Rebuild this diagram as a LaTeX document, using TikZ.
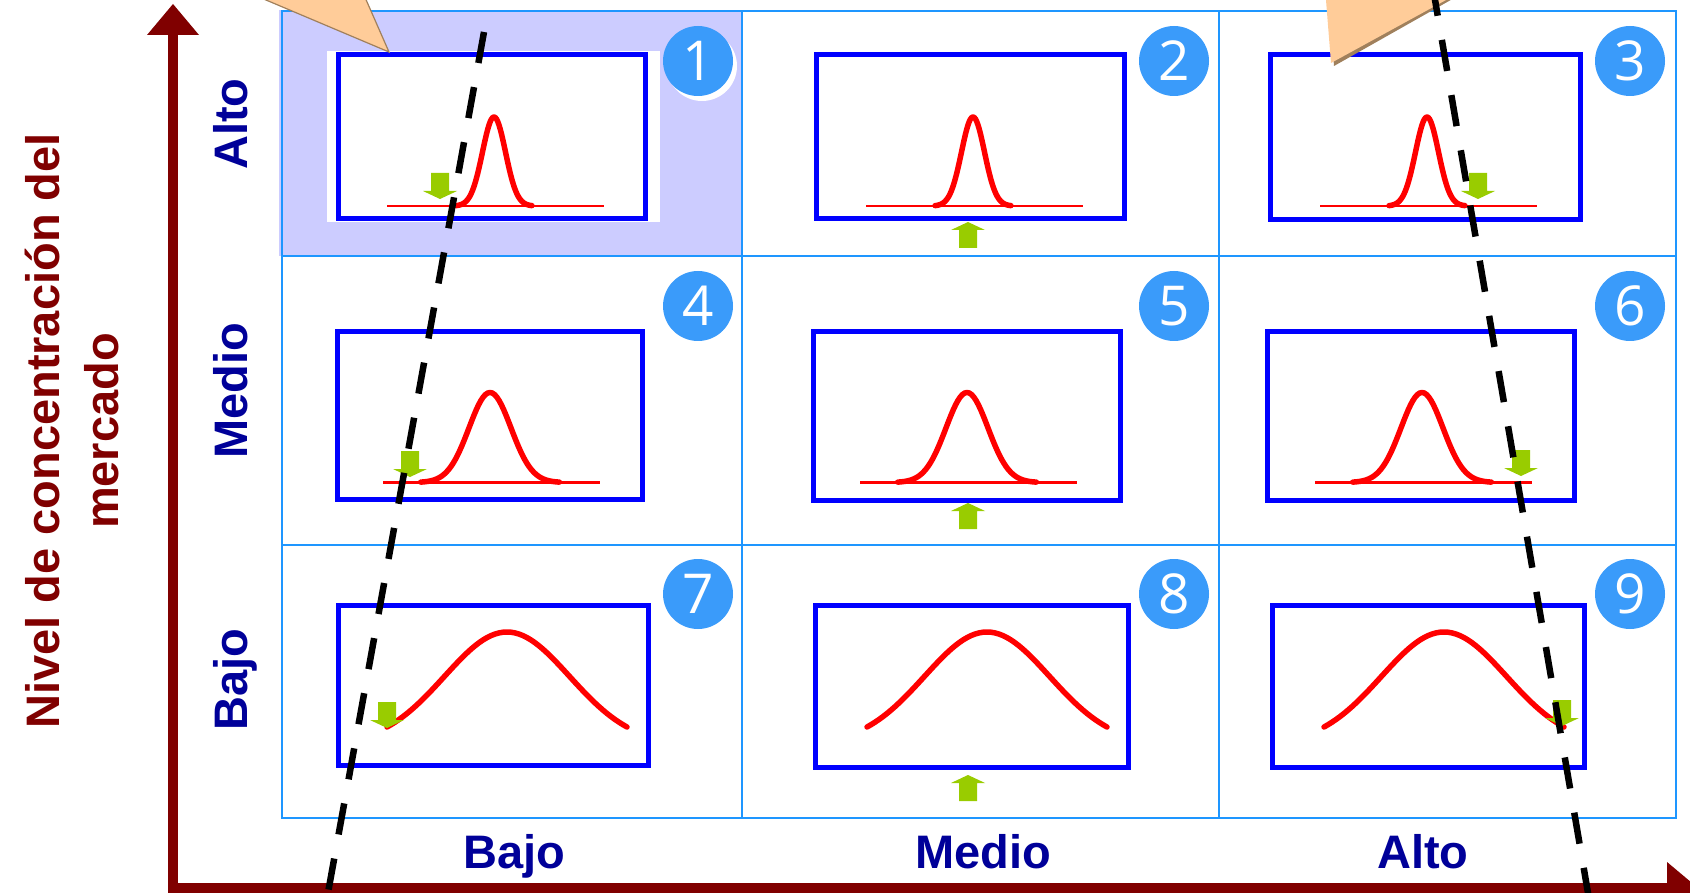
\documentclass[tikz,border=0pt]{standalone}
\usepackage{fontspec}
\newfontfamily\lblfont{Liberation Sans}
\newfontfamily\digitfont{Open Sans}
\definecolor{axisred}{HTML}{800000}
\definecolor{lblblue}{HTML}{000099}
\definecolor{gridblue}{HTML}{1E96FF}
\definecolor{lav}{HTML}{CCCCFF}
\definecolor{boxblue}{HTML}{0000FF}
\definecolor{numblue}{HTML}{3A9BFA}
\definecolor{agreen}{HTML}{99CC00}
\definecolor{peach}{HTML}{FFCC99}
\definecolor{peachedge}{HTML}{A0805C}
\tikzset{
  gridline/.style={draw=gridblue, line width=2.5pt},
  bluebox/.style={draw=boxblue, line width=5pt},
  redcurve/.style={draw=red, line width=5.5pt, line join=round, line cap=round},
  redbase/.style={draw=red, line width=2.5pt},
  numcircle/.style={circle, fill=numblue, text=white, minimum size=70pt, inner sep=0pt, font=\digitfont\fontsize{55pt}{55pt}\selectfont},
  numshadow/.style={circle, fill=white, minimum size=70pt, inner sep=0pt},
  rowlabel/.style={rotate=90, anchor=base, text=lblblue, font=\lblfont\bfseries\fontsize{47pt}{56pt}\selectfont},
  collabel/.style={anchor=base, text=lblblue, font=\lblfont\bfseries\fontsize{47pt}{56pt}\selectfont},
  axislabel/.style={rotate=90, anchor=base, text=axisred, font=\lblfont\bfseries\fontsize{47pt}{56pt}\selectfont},
  guide/.style={draw=black, line width=6.5pt, dash pattern=on 31.5pt off 24.5pt},
  callout/.style={fill=peach, draw=peachedge, line width=1.2pt},
  downarr/.pic={\fill[agreen] (-9,0) -- (9,0) -- (9,18) -- (17,18) -- (0,26) -- (-17,18) -- (-9,18) -- cycle;},
  uparr/.pic={\fill[agreen] (0,0) -- (17,8) -- (9,8) -- (9,26) -- (-9,26) -- (-9,8) -- (-17,8) -- cycle;},
}
\newcommand\peakcurve[4]{%
  \draw[redbase] ({#1-107},#2) -- ({#1+110},#2);
  \draw[redcurve] plot[domain={-3.3*#3}:{3.3*#3}, samples=61] ({#1+\x}, {#2-#4*exp(-0.5*(\x/#3)^2)});
}
\newcommand\widecurve[1]{%
  \draw[redcurve] plot[domain=-120:120, samples=61] ({#1+\x}, {745-113*exp(-0.5*(\x/62.6)^2)});
}
\begin{document}
\begin{tikzpicture}[x=1pt, y=-1pt]
\useasboundingbox (0,0) rectangle (1690,893);
\clip (0,0) rectangle (1690,893);
% shaded cell
\fill[lav] (279,10) rectangle (742,256);
\fill[white] (327,51) rectangle (660,222);
% grid
\draw[gridline] (282,11) rectangle (1676,818);
\draw[gridline] (282,256) -- (1676,256);
\draw[gridline] (282,545) -- (1676,545);
\draw[gridline] (742,11) -- (742,818);
\draw[gridline] (1219,11) -- (1219,818);
% boxes
\draw[bluebox] (338,55) rectangle (645,219);
\draw[bluebox] (816,55) rectangle (1124,219);
\draw[bluebox] (1270,55) rectangle (1580,220);
\draw[bluebox] (337,332) rectangle (642,499);
\draw[bluebox] (813,332) rectangle (1120,500);
\draw[bluebox] (1267,332) rectangle (1574,500);
\draw[bluebox] (338,605) rectangle (648,765);
\draw[bluebox] (815,605) rectangle (1128,767);
\draw[bluebox] (1272,605) rectangle (1584,767);
% curves
\peakcurve{494}{206}{11.5}{89}
\peakcurve{973}{206}{11.5}{89}
\peakcurve{1427}{206}{11.5}{89}
\peakcurve{490}{482.5}{21}{90}
\peakcurve{967}{482.5}{21}{90}
\peakcurve{1422}{482.5}{21}{90}
\widecurve{507}
\widecurve{987}
\widecurve{1444}
% green arrows
\pic at (440,173) {downarr};
\pic at (968,222) {uparr};
\pic at (1478,173) {downarr};
\pic at (410,451) {downarr};
\pic at (968,503) {uparr};
\pic at (1521,450) {downarr};
\pic at (387,702) {downarr};
\pic at (968,775) {uparr};
\pic at (1562,700) {downarr};
% number circles
\node[numshadow] (s1) at (702,66) {};
\node[numcircle] (n1) at (698,61) {1};
\node[numcircle] (n2) at (1174,61) {2};
\node[numcircle] (n3) at (1630,61) {3};
\node[numcircle] (n4) at (698,306) {4};
\node[numcircle] (n5) at (1174,306) {5};
\node[numcircle] (n6) at (1630,306) {6};
\node[numcircle] (n7) at (698,594) {7};
\node[numcircle] (n8) at (1174,594) {8};
\node[numcircle] (n9) at (1630,594) {9};
% labels
\node[axislabel] (ylab1) at (59,431) {Nivel de concentración del};
\node[axislabel] (ylab2) at (118,431) {mercado};
\node[rowlabel] (rAlto) at (247,124) {Alto};
\node[rowlabel] (rMedio) at (247,391) {Medio};
\node[rowlabel] (rBajo) at (247,680) {Bajo};
\node[collabel] (cBajo) at (514,868) {Bajo};
\node[collabel] (cMedio) at (983,868) {Medio};
\node[collabel] (cAlto) at (1423,868) {Alto};
% axes
\fill[axisred] (168,35) rectangle (178,893);
\fill[axisred] (168,883) rectangle (1667,893);
\fill[axisred] (147,35) -- (199,35) -- (173,4) -- cycle;
\fill[axisred] (1667,862) -- (1667,914) -- (1698,888) -- cycle;
% callouts
\path[callout] (195,-30) -- (353,-30) -- (389,52) -- cycle;
\fill[peachedge] (1326.6,-30) -- (1503.8,-30) -- (1334,66) -- cycle;
\path[fill=peach] (1323.6,-30) -- (1500.8,-30) -- (1331,63) -- cycle;
% dashed guides
\coordinate (gl1) at (484,32);
\coordinate (gl2) at (326.7,900);
\coordinate (gr1) at (1432.4,-15.3);
\coordinate (gr2) at (1589.2,900);
\draw[guide] (gl1) -- (gl2);
\draw[guide] (gr1) -- (gr2);
\end{tikzpicture}
\end{document}
